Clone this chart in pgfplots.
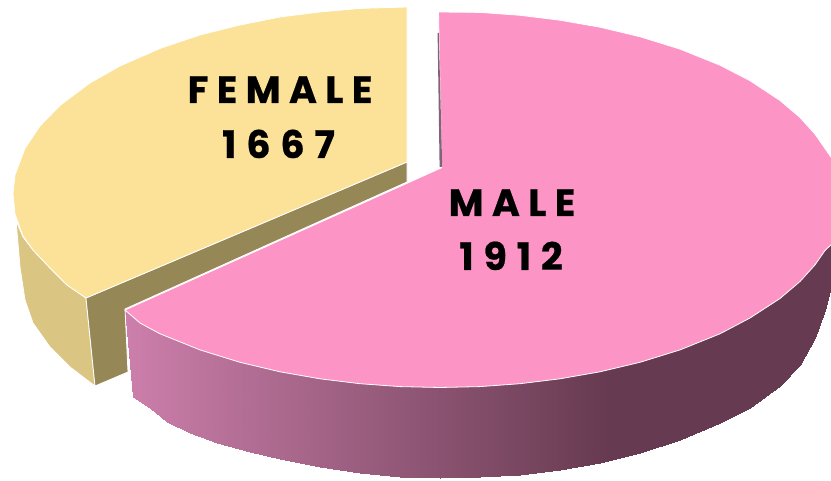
\documentclass[border=0pt]{standalone}
\usepackage{pgfplots}
\pgfplotsset{compat=1.18}
\usepackage{fontspec}
\setmainfont{Poppins}
\newfontfamily\labfont[LetterSpace=22,BoldFeatures={FakeBold=0.6}]{Poppins}
\newfontfamily\numfont[LetterSpace=26,BoldFeatures={FakeBold=0.6}]{Poppins}
\definecolor{femaletop}{RGB}{251,226,152}
\definecolor{femalecut}{RGB}{150,135,87}
\definecolor{femaleside}{RGB}{219,197,131}
\definecolor{maletop}{RGB}{252,149,198}
\definecolor{sliver}{RGB}{130,100,120}
\pgfplotsset{
  every axis/.append style={scale only axis,width=831pt,height=481pt,xmin=0,xmax=831,ymin=0,ymax=481,y dir=reverse,hide axis},
  colormap={pinkside}{rgb255(0cm)=(204,127,171) rgb255(4.85cm)=(102,58,80) rgb255(7.06cm)=(102,58,80)}
}
\begin{document}
\begin{tikzpicture}
\path (0,0) rectangle (831pt,481pt);
\begin{axis}[at={(0,0)},anchor=south west,view={0}{90},colormap name=pinkside,point meta min=125,point meta max=831]
\addplot3[surf,shader=interp,mesh/rows=2,point meta=x] table {
x y z
125 309 0
140 321 0
160 331 0
180 340 0
200 347 0
240 359 0
280 369 0
320 376 0
360 381 0
400 384 0
440 385 0
480 384 0
520 381 0
560 376 0
600 369 0
640 359 0
680 347 0
720 331 0
750 315 0
780 296 0
800 279 0
815 262 0
825 248 0
831 242 0
133 397 0
150 408 0
167 422 0
190 433 0
217 443 0
250 452 0
280 459 0
320 467 0
360 473 0
400 476.8 0
440 478 0
480 477.5 0
520 474.5 0
560 469.7 0
600 462.5 0
640 452.8 0
680 440 0
720 423 0
750 408 0
780 386 0
800 365 0
815 338 0
825 310 0
831 287 0
};
\end{axis}
\begin{axis}[at={(0,0)},anchor=south west]
% female side
\addplot[fill=femaleside,draw=white,line width=0.8pt] coordinates {
(15,218)(23,237)(33,250)(50,268)(67,285)(86,298)(95,386)(70,367)(50,347)(33,323)(25,300)(20,267)(16,220)} --cycle;
% female cut face
\addplot[fill=femalecut,draw=white,line width=0.8pt] coordinates {
(86,298)(407,162)(407,182)(125,309)(128,372)(95,386)} --cycle;
% female top
\addplot[fill=femaletop,draw=white,line width=0.8pt] coordinates {
(407,7)(360,8.4)(320,12)(280,17)(240,25)(200,35)(160,48.5)(120,66)(90,83)(60,105.5)(40,126)(25,148.4)(15,175)(13,194)(15,214)(23,236)(33,250)(50,268)(67,285)(86,298)(407,162)} --cycle;
% male top
\addplot[fill=maletop,draw=white,line width=0.8pt] coordinates {
(441.7,167.7)(438.5,12)(480,12.4)(520,15.3)(560,20.2)(600,27.2)(640,36.7)(680,49.1)(720,65.2)(750,80.7)(780,100.5)(800,117.5)(815,134.1)(825,148.5)(833,160)
(833,243)(825,250.5)(815,264.9)(800,281.5)(780,298.5)(750,318)(720,333.8)(680,349.9)(640,362.3)(600,371.8)(560,378.8)(520,383.7)(480,386.6)(440,387.5)(400,386.6)(360,383.7)(320,378.8)(280,371.8)(240,362.3)(200,349.9)(160,333.8)(140,323)(125,310)} --cycle;
% sliver of male inner face
\addplot[fill=sliver,draw=none] coordinates {(437.6,33)(439.6,167)(442.2,167)(438.8,33)} --cycle;
\node[anchor=base,inner sep=0pt,font=\fontsize{38}{38}\selectfont\labfont\bfseries] at (axis cs:280,103) {FEMALE};
\node[anchor=base,inner sep=0pt,font=\fontsize{38}{38}\selectfont\numfont\bfseries] at (axis cs:278.5,158) {1667};
\node[anchor=base,inner sep=0pt,font=\fontsize{38}{38}\selectfont\labfont\bfseries] at (axis cs:512,216) {MALE};
\node[anchor=base,inner sep=0pt,font=\fontsize{38}{38}\selectfont\numfont\bfseries] at (axis cs:511,270) {1912};
\end{axis}
\end{tikzpicture}
\end{document}
